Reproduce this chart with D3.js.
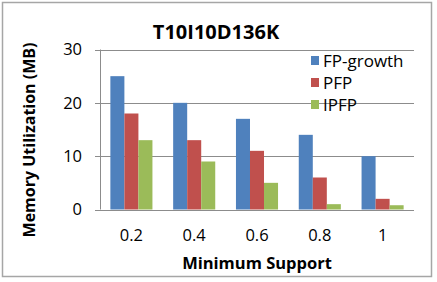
<!DOCTYPE html>
<html>
<head>
<meta charset="utf-8">
<script src="https://cdn.jsdelivr.net/npm/d3@7"></script>
<style>
  body { margin: 0; background: #fff; }
  text { font-family: "Open Sans", sans-serif; fill: #000; }
</style>
</head>
<body>
<div id="chart"></div>
<script>
// data
const supports = ["0.2", "0.4", "0.6", "0.8", "1"];
const seriesNames = ["FP-growth", "PFP", "IPFP"];
const fpGrowth = [25, 20, 17, 14, 10];
const pfp = [18, 13, 11, 6, 2];
const ipfp = [13, 9, 5, 1, 0.8];
const yTicks = [0, 10, 20, 30];
const colors = ["#4F81BD", "#C0504D", "#9BBB59"];

const width = 437, height = 282;
const margin = { top: 49.5, right: 23, bottom: 72.5, left: 100 };

const rows = supports.map((s, i) => ({
  support: s,
  values: [fpGrowth[i], pfp[i], ipfp[i]]
}));

const svg = d3.select("#chart").append("svg")
  .attr("width", width)
  .attr("height", height);

// outer frame
svg.append("rect")
  .attr("x", 2.5).attr("y", 2.5)
  .attr("width", 429).attr("height", 274)
  .attr("fill", "none")
  .attr("stroke", "#a6a6a6")
  .attr("stroke-width", 1.5);

const x0 = d3.scaleBand()
  .domain(supports)
  .range([margin.left, width - margin.right])
  .paddingInner(0.33)
  .paddingOuter(0.165);

const x1 = d3.scaleBand()
  .domain(d3.range(seriesNames.length))
  .range([0, x0.bandwidth()]);

const y = d3.scaleLinear()
  .domain([0, 30])
  .range([height - margin.bottom, margin.top]);

// gridlines
svg.append("g")
  .selectAll("line")
  .data(yTicks)
  .join("line")
  .attr("x1", margin.left - 5)
  .attr("x2", width - margin.right)
  .attr("y1", d => Math.round(y(d)) + 0.5)
  .attr("y2", d => Math.round(y(d)) + 0.5)
  .attr("stroke", "#8c8c8c")
  .attr("stroke-width", 1);

// bars
const groups = svg.append("g")
  .selectAll("g")
  .data(rows)
  .join("g")
  .attr("transform", d => `translate(${x0(d.support)},0)`);

groups.selectAll("rect")
  .data(d => d.values.map((v, k) => ({ k, v })))
  .join("rect")
  .attr("x", d => x1(d.k))
  .attr("width", x1.bandwidth())
  .attr("y", d => y(d.v))
  .attr("height", d => y(0) - y(d.v))
  .attr("fill", d => colors[d.k]);

// y axis line
svg.append("line")
  .attr("x1", margin.left + 0.5).attr("x2", margin.left + 0.5)
  .attr("y1", y(30)).attr("y2", y(0))
  .attr("stroke", "#8c8c8c");

// tick labels
svg.append("g")
  .selectAll("text")
  .data(yTicks)
  .join("text")
  .attr("x", 82)
  .attr("y", d => y(d))
  .attr("dy", "0.36em")
  .attr("text-anchor", "end")
  .style("font-size", "16.5px")
  .text(d => d);

svg.append("g")
  .selectAll("text")
  .data(supports)
  .join("text")
  .attr("x", d => x0(d) + x0.bandwidth() / 2)
  .attr("y", 241)
  .attr("text-anchor", "middle")
  .style("font-size", "16.5px")
  .text(d => d);

// title and axis titles
svg.append("text")
  .attr("x", 216)
  .attr("y", 39)
  .attr("text-anchor", "middle")
  .style("font-size", "20px")
  .style("font-weight", "bold")
  .text("T10I10D136K");

svg.append("text")
  .attr("x", 257)
  .attr("y", 268.5)
  .attr("text-anchor", "middle")
  .style("font-size", "16.5px")
  .style("font-weight", "bold")
  .text("Minimum Support");

svg.append("text")
  .attr("transform", "translate(35,140) rotate(-90)")
  .attr("text-anchor", "middle")
  .style("font-size", "16px")
  .style("font-weight", "bold")
  .text("Memory Utilization (MB)");

// legend
const legend = svg.append("g")
  .selectAll("g")
  .data(seriesNames)
  .join("g")
  .attr("transform", (d, i) => `translate(311,${60.5 + i * 22})`);

legend.append("rect")
  .attr("x", 0).attr("y", -4.5)
  .attr("width", 8).attr("height", 9)
  .attr("fill", (d, i) => colors[i]);

legend.append("text")
  .attr("x", 12)
  .attr("dy", "0.36em")
  .style("font-size", "17px")
  .text(d => d);
</script>
</body>
</html>
